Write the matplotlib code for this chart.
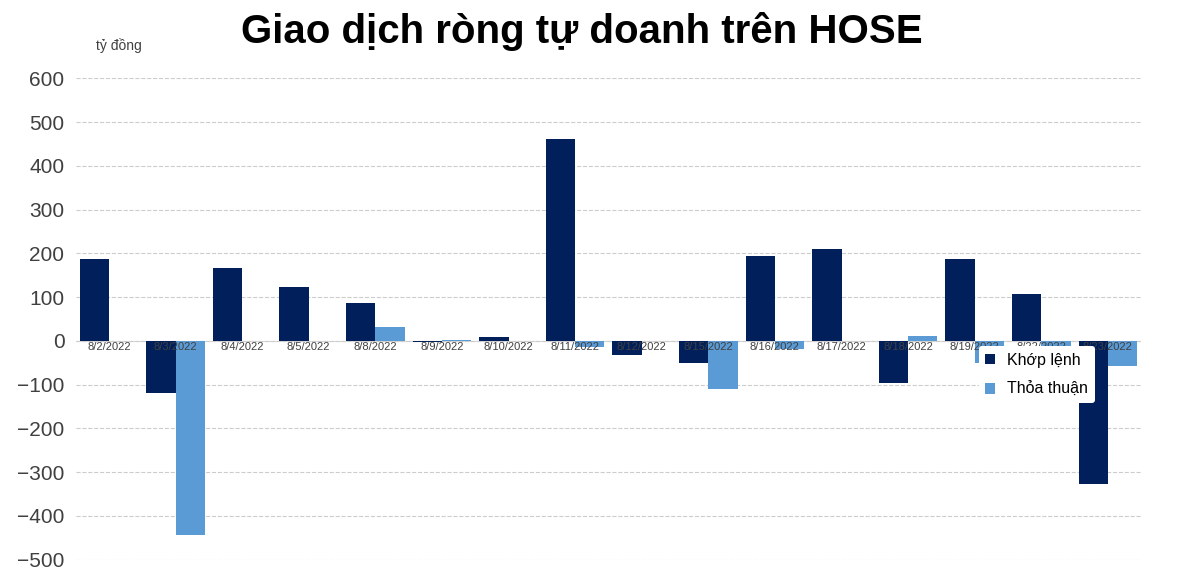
import matplotlib
matplotlib.use("Agg")
import matplotlib.pyplot as plt
import numpy as np

plt.rcParams['font.family'] = ['Liberation Sans', 'DejaVu Sans']

dates = ["8/2/2022","8/3/2022","8/4/2022","8/5/2022","8/8/2022","8/9/2022","8/10/2022","8/11/2022",
         "8/12/2022","8/15/2022","8/16/2022","8/17/2022","8/18/2022","8/19/2022","8/22/2022","8/23/2022"]
khop_lenh = [186, -119, 167, 124, 87, -3, 8, 461, -33, -50, 195, 211, -96, 188, 108, -326]
thoa_thuan = [0, -443, 0, 0, 32, 2, 0, -14, 0, -110, -18, 0, 12, -50, -40, -57]

fig = plt.figure(figsize=(12, 5.8), dpi=100)
ax = fig.add_axes([0.063, 0.035, 0.888, 0.83])
x = np.arange(len(dates))
w = 0.44
ax.bar(x - w/2, khop_lenh, w, color='#001f5b', label='Khớp lệnh', zorder=2)
ax.bar(x + w/2, thoa_thuan, w, color='#5b9bd5', label='Thỏa thuận', zorder=2)
ax.set_ylim(-500, 600)
ax.set_xlim(-0.5, len(dates) - 0.5)
ax.set_yticks(range(-500, 601, 100))
ax.tick_params(axis='y', labelsize=15, colors='#404040', length=0, pad=8)
ax.yaxis.grid(True, linestyle='--', color='#cccccc', linewidth=0.8, zorder=0)
ax.set_xticks([])
for s in ax.spines.values():
    s.set_visible(False)
ax.axhline(0, color='#d9d9d9', linewidth=0.8, zorder=1)
for i, d in enumerate(dates):
    ax.text(i, -3, d, ha='center', va='top', fontsize=8, color='#404040', zorder=3)
leg = ax.legend(loc='upper left', bbox_to_anchor=(0.84, 0.46), frameon=True, fontsize=11.5,
                handlelength=0.6, handleheight=0.6, borderpad=0.4, labelspacing=0.9)
leg.get_frame().set_edgecolor('none')
leg.get_frame().set_facecolor('white')
leg.get_frame().set_alpha(1)
leg.set_zorder(5)
fig.text(0.485, 0.945, 'Giao dịch ròng tự doanh trên HOSE', ha='center', va='center',
         fontsize=29, fontweight='bold')
fig.text(0.08, 0.922, 'tỷ đồng', ha='left', va='center', fontsize=10, color='#404040')
fig.savefig('out.png')
